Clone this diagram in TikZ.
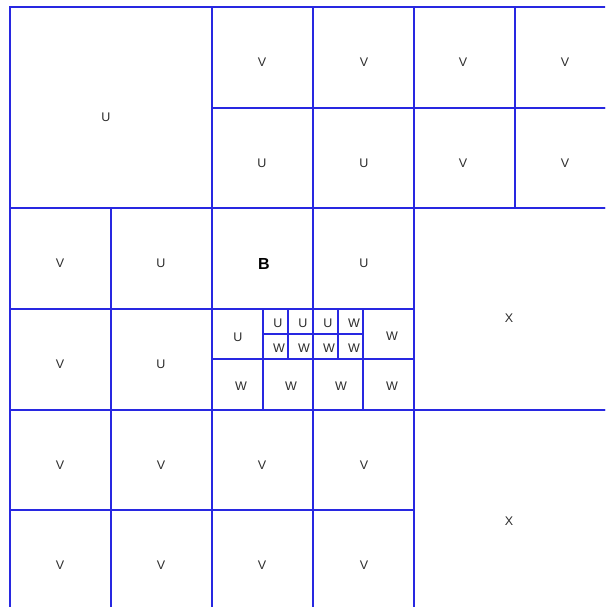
\documentclass[tikz,border=0pt]{standalone}
\usepackage{fontspec}
\setmainfont{Liberation Sans}
\definecolor{gridblue}{RGB}{40,40,225}
\definecolor{labelgray}{RGB}{45,45,45}
\begin{document}
\begin{tikzpicture}[x=1pt,y=-1pt,
  cell/.style={draw=gridblue,line width=1.4pt},
  lab/.style={text=labelgray,font=\fontsize{12.5}{14}\selectfont,inner sep=0pt},
  bold/.style={text=black,font=\fontsize{16}{18}\selectfont\bfseries,inner sep=0pt}]
\useasboundingbox (0,0) rectangle (605,607);
\clip (0,0) rectangle (605,607);
\fill[white] (0,0) rectangle (605,607);
% big blocks
\draw[cell] (10,7) rectangle (212,208);
\draw[cell] (414,208) rectangle (616,410);
\draw[cell] (414,410) rectangle (616,611);
% rows 0-1, cols 2-5
\foreach \x in {212,313,414,515}{
  \draw[cell] (\x,7) rectangle ++(101,101);
  \draw[cell] (\x,108) rectangle ++(101,100);
}
% row 2 and 3 cols 0-1, row 2 cols 2-3
\foreach \x in {10,111}{
  \draw[cell] (\x,208) rectangle ++(101,101);
  \draw[cell] (\x,309) rectangle ++(101,101);
}
\draw[cell] (212,208) rectangle (313,309);
\draw[cell] (313,208) rectangle (414,309);
% rows 4-5 cols 0-3
\foreach \x in {10,111,212,313}{
  \draw[cell] (\x,410) rectangle ++(101,100);
  \draw[cell] (\x,510) rectangle ++(101,101);
}
% subdivided block
\draw[cell] (212,309) rectangle (414,410);
\draw[cell] (212,359) -- (414,359);
\draw[cell] (263,309) -- (263,410);
\draw[cell] (363,309) -- (363,410);
\draw[cell] (313,309) -- (313,410);
\draw[cell] (288,309) -- (288,359);
\draw[cell] (338,309) -- (338,359);
\draw[cell] (263,334) -- (363,334);
% labels
\node[lab] (u0) at (106,117) {U};
\node[lab] (v1) at (262,62) {V};
\node[lab] (v2) at (364,62) {V};
\node[lab] (v3) at (463,62) {V};
\node[lab] (v4) at (565,62) {V};
\node[lab] (u1) at (262,163) {U};
\node[lab] (u2) at (364,163) {U};
\node[lab] (v5) at (463,163) {V};
\node[lab] (v6) at (565,163) {V};
\node[lab] (v7) at (60,263) {V};
\node[lab] (u3) at (161,263) {U};
\node[bold] (b) at (264,264) {B};
\node[lab] (u4) at (364,263) {U};
\node[lab] (x1) at (509,318) {X};
\node[lab] (v8) at (60,364) {V};
\node[lab] (u5) at (161,364) {U};
\node[lab] (u6) at (238,337) {U};
\node[lab] (u7) at (278,323) {U};
\node[lab] (u8) at (303,323) {U};
\node[lab] (u9) at (328,323) {U};
\node[lab] (w1) at (354,323) {W};
\node[lab] (w2) at (279,348) {W};
\node[lab] (w3) at (304,348) {W};
\node[lab] (w4) at (329,348) {W};
\node[lab] (w5) at (354,348) {W};
\node[lab] (w6) at (392,336) {W};
\node[lab] (w7) at (241,386) {W};
\node[lab] (w8) at (291,386) {W};
\node[lab] (w9) at (341,386) {W};
\node[lab] (w10) at (392,386) {W};
\node[lab] (v9) at (60,465) {V};
\node[lab] (v10) at (161,465) {V};
\node[lab] (v11) at (262,465) {V};
\node[lab] (v12) at (364,465) {V};
\node[lab] (x2) at (509,521) {X};
\node[lab] (v13) at (60,565) {V};
\node[lab] (v14) at (161,565) {V};
\node[lab] (v15) at (262,565) {V};
\node[lab] (v16) at (364,565) {V};
\end{tikzpicture}
\end{document}
